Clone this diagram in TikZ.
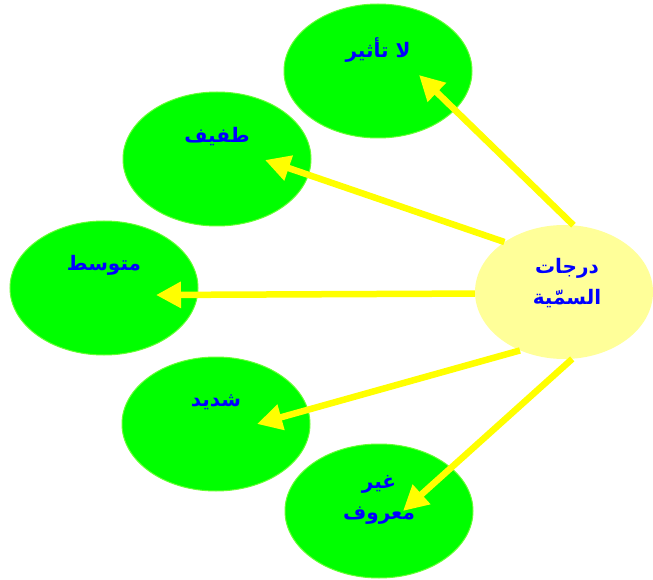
\documentclass[tikz,border=0pt]{standalone}
\usepackage{fontspec}
\usepackage{tikz}
\usetikzlibrary{arrows.meta,shapes.geometric}
\newfontfamily\arabicfont[Script=Arabic,BoldFont={DejaVu Sans Bold}]{DejaVu Sans}
\TeXXeTstate=1
\definecolor{leafgreen}{RGB}{0,255,0}
\definecolor{leafrim}{RGB}{102,255,51}
\definecolor{hubyellow}{RGB}{255,255,153}
\definecolor{raycol}{RGB}{255,255,0}
\definecolor{txtblue}{RGB}{0,0,255}
\tikzset{
  leaf/.style={ellipse, fill=leafgreen, draw=leafrim, line width=1pt,
    minimum width=188pt, minimum height=134pt, inner sep=0pt},
  hub/.style={ellipse, fill=hubyellow, minimum width=178pt,
    minimum height=134pt, inner sep=0pt},
  lbl/.style={text=txtblue, align=center,
    font=\fontsize{20}{31}\arabicfont\bfseries\selectfont},
  ray/.style={draw=raycol, line width=6.5pt,
    -{Triangle[length=25pt,width=25pt]}},
}
\begin{document}
\begin{tikzpicture}[x=1pt,y=1pt]
\useasboundingbox (0,0) rectangle (653,579);

% the five degrees
\node[leaf] (none) at (378,508) {};
\node[leaf] (mild) at (217,420) {};
\node[leaf] (moderate) at (104,291) {};
\node[leaf] (severe) at (216,155) {};
\node[leaf] (unknown) at (379,68) {};
\node[hub] (hub) at (564,287) {};

\node[lbl] (nonetxt) at ([yshift=21pt]none.center) {\beginR لا تأثير\endR};
\node[lbl] (mildtxt) at ([yshift=22pt]mild.center) {\beginR طفيف\endR};
\node[lbl] (moderatetxt) at ([yshift=23pt]moderate.center) {\beginR متوسط\endR};
\node[lbl] (severetxt) at ([yshift=22pt]severe.center) {\beginR شديد\endR};
\node[lbl] (unknowntxt) at ([yshift=11pt]unknown.center) {\beginR غير\endR\\\beginR معروف\endR};
\node[lbl] (hubtxt) at ([xshift=3pt,yshift=9pt]hub.center) {\beginR درجات\endR\\\beginR السمّية\endR};

% arrow tips
\path (none.center) ++(41,-4) coordinate (nonetip);
\path (mild.center) ++(48,-1) coordinate (mildtip);
\path (moderate.center) ++(52,-7) coordinate (moderatetip);
\path (severe.center) ++(41,0) coordinate (severetip);
\path (unknown.center) ++(24,0) coordinate (unknowntip);

\draw[ray] (hub.82) -- (nonetip);
\draw[ray] (hub.140) -- (mildtip);
\draw[ray] (hub.181) -- (moderatetip);
\draw[ray] (hub.233) -- (severetip);
\draw[ray] (hub.277) -- (unknowntip);

\end{tikzpicture}
\end{document}
